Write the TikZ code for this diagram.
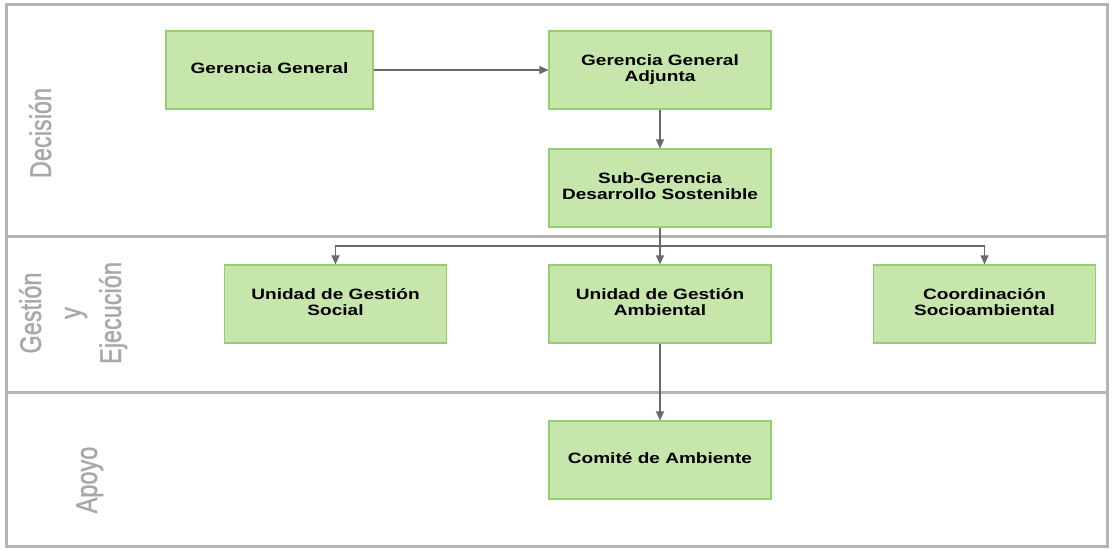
\documentclass[tikz,border=0pt]{standalone}
\usepackage{fontspec}
\setmainfont{Liberation Sans}
\newfontfamily\lanefont[FakeBold=1.6]{Liberation Sans}
\usetikzlibrary{arrows.meta}
\definecolor{boxfill}{RGB}{199,230,172}
\definecolor{boxline}{RGB}{150,205,112}
\definecolor{frameline}{RGB}{180,180,180}
\definecolor{lanetext}{RGB}{168,168,168}
\definecolor{arrline}{RGB}{105,105,105}
% horizontally widened text
\newcommand\widetext[1]{\scalebox{1.27}[1]{#1}}
\newcommand\boxtext[1]{\widetext{\begin{tabular}{@{}c@{}}#1\end{tabular}}}
\newcommand\lanetitle[1]{\widetext{\rotatebox{90}{\begin{tabular}{@{}c@{}}#1\end{tabular}}}}
\tikzset{
  stepbox/.style={draw=boxline, fill=boxfill, line width=1.2pt, inner sep=0pt,
    minimum width=222pt, minimum height=78pt,
    font=\bfseries\fontsize{15}{16}\selectfont},
  lane/.style={text=lanetext, inner sep=0pt, font=\lanefont\fontsize{23.5}{31.5}\selectfont},
  frame/.style={draw=frameline, line width=3pt},
  arr/.style={draw=arrline, line width=1.2pt, -{Triangle[length=9pt,width=8pt]}},
  link/.style={draw=arrline, line width=1.2pt}
}
\begin{document}
\begin{tikzpicture}[x=1pt, y=-1pt]
\useasboundingbox (0,0) rectangle (1112,549);
% lanes
\draw[frame] (6,4) rectangle (1107,546);
\draw[frame] (6,236) -- (1107,236);
\draw[frame] (6,392) -- (1107,392);
\node[lane] (l1) at (43,133) {\lanetitle{Decisión}};
\node[lane] (l2) at (73,313) {\lanetitle{Gestión\\y\\Ejecución}};
\node[lane] (l3) at (89,480) {\lanetitle{Apoyo}};
% boxes
\node[stepbox, minimum width=207pt] (gg) at (269.5,70) {\boxtext{Gerencia General}};
\node[stepbox] (ga) at (660,70) {\boxtext{Gerencia General\\Adjunta}};
\node[stepbox] (sg) at (660,188) {\boxtext{Sub-Gerencia\\Desarrollo Sostenible}};
\node[stepbox] (ugs) at (335.5,304) {\boxtext{Unidad de Gestión\\Social}};
\node[stepbox] (uga) at (660,304) {\boxtext{Unidad de Gestión\\Ambiental}};
\node[stepbox] (cs) at (984.5,304) {\boxtext{Coordinación\\Socioambiental}};
\node[stepbox] (ca) at (660,460) {\boxtext{Comité de Ambiente}};
% connectors
\coordinate (hub) at (660,246);
\draw[arr] (gg.east) -- (ga.west);
\draw[arr] (ga.south) -- (sg.north);
\draw[link] (sg.south) -- (hub);
\draw[arr] (hub) -| (ugs.north);
\draw[arr] (hub) -- (uga.north);
\draw[arr] (hub) -| (cs.north);
\draw[arr] (uga.south) -- (ca.north);
\end{tikzpicture}
\end{document}
